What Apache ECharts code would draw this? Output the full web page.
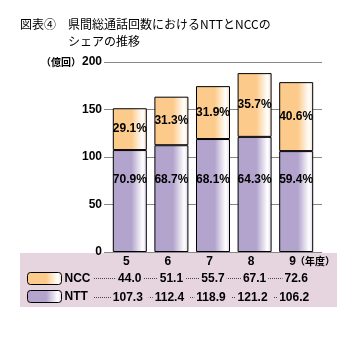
<!DOCTYPE html>
<html>
<head>
<meta charset="utf-8">
<script src="https://cdn.jsdelivr.net/npm/echarts@6/dist/echarts.min.js"></script>
<style>
  html, body { margin: 0; padding: 0; background: #fff; }
  #chart { width: 357px; height: 352px; }
</style>
</head>
<body>
<div id="chart"></div>
<script>
const years = ['5', '6', '7', '8', '9'];
const ncc = [44.0, 51.1, 55.7, 67.1, 72.6];
const ntt = [107.3, 112.4, 118.9, 121.2, 106.2];
const nccShare = ['29.1', '31.3', '31.9', '35.7', '40.6'];
const nttShare = ['70.9', '68.7', '68.1', '64.3', '59.4'];
const yTicks = [0, 50, 100, 150, 200];

const numFont = '"Liberation Sans", "Noto Sans CJK JP", sans-serif';
const jpFont = '"Noto Sans CJK JP", sans-serif';
const pink = '#E6D4DE';

// horizontal shine: solid on the left, white toward the right edge
function shine(c, edge) {
  return new echarts.graphic.LinearGradient(0, 0, 1, 0, [
    { offset: 0, color: c },
    { offset: 0.55, color: c },
    { offset: 0.88, color: '#ffffff' },
    { offset: 1, color: edge }
  ]);
}
const orange = shine('#FCCB8B', '#F3DCC0');
const purple = shine('#B3A4CD', '#DCD4E8');

const chart = echarts.init(document.getElementById('chart'));

const option = {
  animation: false,
  backgroundColor: '#fff',
  title: [
    {
      text: '図表④　県間総通話回数におけるNTTとNCCの',
      left: 20, top: 18, padding: 0,
      textStyle: { fontFamily: jpFont, fontSize: 12, fontWeight: 'normal', color: '#000' }
    },
    {
      text: 'シェアの推移',
      left: 68, top: 35, padding: 0,
      textStyle: { fontFamily: jpFont, fontSize: 12, fontWeight: 'normal', color: '#000' }
    }
  ],
  legend: {
    data: ['NCC', 'NTT'],
    orient: 'vertical',
    left: 27, top: 272, padding: 0,
    itemWidth: 34, itemHeight: 12, itemGap: 5,
    itemStyle: { borderColor: '#000', borderWidth: 1 },
    textStyle: { fontFamily: numFont, fontSize: 12, fontWeight: 'bold', color: '#000', padding: [0, 0, 0, -2] },
    selectedMode: false
  },
  grid: [
    { left: 104, right: 35, top: 62, bottom: 100 },
    { left: 109, width: 208, top: 62, bottom: 100 }
  ],
  xAxis: [
    { gridIndex: 0, type: 'value', show: false },
    {
      gridIndex: 1, type: 'category', data: years,
      axisLine: { show: false }, axisTick: { show: false },
      axisLabel: {
        margin: 3, interval: 0,
        formatter: (v, i) => `{c|${v}}\n{n|${ncc[i].toFixed(1)}}\n{t|${ntt[i].toFixed(1)}}`,
        rich: {
          c: { fontFamily: numFont, fontSize: 12, fontWeight: 'bold', color: '#000', lineHeight: 14, padding: [0, 7, 0, 0] },
          n: { fontFamily: numFont, fontSize: 12, fontWeight: 'bold', color: '#000', lineHeight: 19, backgroundColor: pink, padding: [0, 2, 0, 2] },
          t: { fontFamily: numFont, fontSize: 12, fontWeight: 'bold', color: '#000', lineHeight: 19, backgroundColor: pink, padding: [0, 6, 0, 2] }
        }
      }
    }
  ],
  yAxis: [
    {
      gridIndex: 0, type: 'value',
      min: yTicks[0], max: yTicks[yTicks.length - 1], interval: yTicks[1] - yTicks[0],
      axisLine: { show: false }, axisTick: { show: false },
      axisLabel: { margin: 2, fontFamily: numFont, fontSize: 12, fontWeight: 'bold', color: '#000' },
      splitLine: { lineStyle: { color: '#888', width: 1 } }
    },
    {
      gridIndex: 1, type: 'value',
      min: yTicks[0], max: yTicks[yTicks.length - 1], interval: yTicks[1] - yTicks[0],
      show: false, splitLine: { show: false }
    }
  ],
  graphic: [
    { type: 'rect', z: -10, shape: { x: 20, y: 253, width: 317, height: 54 }, style: { fill: pink } },
    { type: 'line', z: -5, shape: { x1: 94, y1: 278.5, x2: 310, y2: 278.5 }, style: { stroke: '#444', lineWidth: 1, lineDash: [1, 1] } },
    { type: 'line', z: -5, shape: { x1: 94, y1: 297.5, x2: 310, y2: 297.5 }, style: { stroke: '#444', lineWidth: 1, lineDash: [1, 1] } },
    { type: 'text', right: 276, top: 57, style: { text: '（億回）', font: 'bold 10px ' + jpFont, fill: '#000' } },
    { type: 'text', left: 295, top: 256, style: { text: '（年度）', font: 'bold 10px ' + jpFont, fill: '#000' } }
  ],
  series: [
    {
      name: 'NTT', type: 'bar', stack: 'total',
      xAxisIndex: 1, yAxisIndex: 1, barWidth: 34, z: 3,
      data: ntt,
      itemStyle: { color: purple, borderColor: '#000', borderWidth: 1 },
      label: {
        show: true, position: 'insideBottom', distance: 66,
        formatter: (p) => nttShare[p.dataIndex] + '%',
        fontFamily: numFont, fontSize: 12, fontWeight: 'bold', color: '#000'
      }
    },
    {
      name: 'NCC', type: 'bar', stack: 'total',
      xAxisIndex: 1, yAxisIndex: 1, barWidth: 34, z: 3,
      data: ncc,
      itemStyle: { color: orange, borderColor: '#000', borderWidth: 1 },
      label: {
        show: true, position: 'inside',
        formatter: (p) => nccShare[p.dataIndex] + '%',
        fontFamily: numFont, fontSize: 12, fontWeight: 'bold', color: '#000'
      }
    }
  ]
};

chart.setOption(option);
</script>
</body>
</html>
